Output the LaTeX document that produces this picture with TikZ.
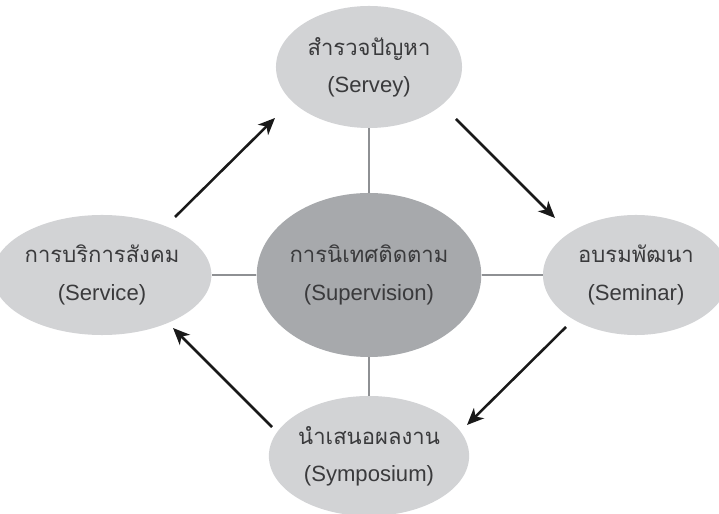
\documentclass[tikz,border=0pt]{standalone}
\usepackage{fontspec}
\setmainfont{Liberation Sans}
\newfontfamily\thaifont[Script=Thai]{Loma}
\usetikzlibrary{arrows.meta,shapes.geometric}

\definecolor{bubble}{HTML}{D2D3D5}
\definecolor{hubgray}{HTML}{A7A9AC}
\definecolor{spokegray}{HTML}{8E9093}
\definecolor{ink}{HTML}{3A3A3C}

\begin{document}
\begin{tikzpicture}[x=0.025cm, y=0.025cm,
  phase/.style={ellipse, fill=bubble, minimum width=4.65cm, minimum height=3cm,
    inner sep=0pt, align=center, text=ink, font=\fontsize{15.7}{26.5}\selectfont},
  hub/.style={phase, fill=hubgray, minimum height=4.1cm},
  spoke/.style={draw=spokegray, line width=1.4pt},
  turn/.style={-{Stealth[length=0.42cm,width=0.36cm,inset=0.12cm]}, line width=1.8pt, black!90}]
\clip (0,0) rectangle (719,514);

\node[hub] (sup) at (369,239) {{\thaifont การนิเทศติดตาม}\\(Supervision)};
\node[phase, minimum height=3.05cm] (srvy) at (369,447) {{\thaifont สำรวจปัญหา}\\(Servey)};
\node[phase] (smnr) at (636,239) {{\thaifont อบรมพัฒนา}\\(Seminar)};
\node[phase] (symp) at (369,58) {{\thaifont นำเสนอผลงาน}\\(Symposium)};
\node[phase] (srvc) at (102,239) {{\thaifont การบริการสังคม}\\(Service)};

% spokes to the hub
\draw[spoke] (sup) -- (srvy);
\draw[spoke] (sup) -- (smnr);
\draw[spoke] (sup) -- (symp);
\draw[spoke] (sup) -- (srvc);

% the cycle
\coordinate (srvc-out) at (175,297);
\coordinate (srvy-in) at (275,396);
\coordinate (srvy-out) at (456,395);
\coordinate (smnr-in) at (555,296);
\coordinate (smnr-out) at (566,187);
\coordinate (symp-in) at (467,89);
\coordinate (symp-out) at (272,87);
\coordinate (srvc-in) at (173,186);
\draw[turn] (srvc-out) -- (srvy-in);
\draw[turn] (srvy-out) -- (smnr-in);
\draw[turn] (smnr-out) -- (symp-in);
\draw[turn] (symp-out) -- (srvc-in);
\end{tikzpicture}
\end{document}
